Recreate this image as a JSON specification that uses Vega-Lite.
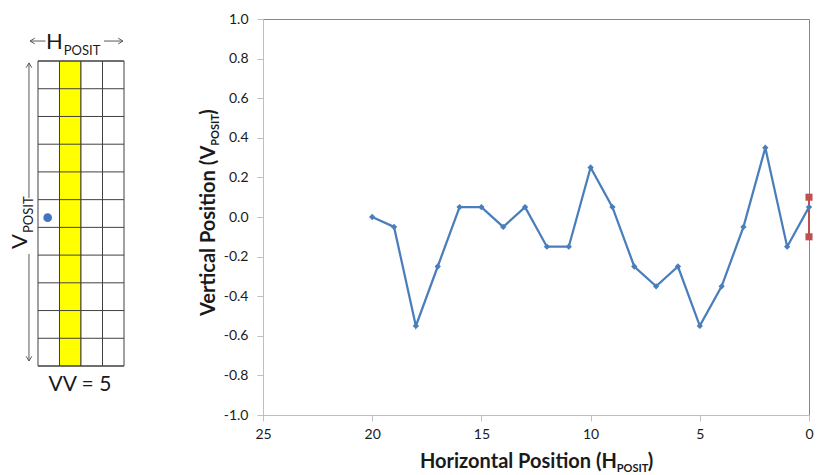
{
  "$schema": "https://vega.github.io/schema/vega-lite/v6.json",
  "background": "white",
  "padding": {"left": 0, "top": 11, "right": 0, "bottom": 0},
  "autosize": {"type": "pad"},
  "bounds": "flush",
  "spacing": 113,
  "config": {
    "font": "Lato",
    "axis": {"labelFont": "Lato", "titleFont": "Lato", "labelOverlap": false, "labelFontSize": 14, "labelColor": "#1a1a1a", "tickColor": "#BFBFBF", "domainColor": "#BFBFBF", "tickSize": 6, "grid": false, "labelFlush": false},
    "axisX": {"labelPadding": 6},
    "axisY": {"labelPadding": 9},
    "text": {"font": "Lato"}
  },
  "datasets": {
    "series": [
      {"h": 20, "v": 0.0},
      {"h": 19, "v": -0.05},
      {"h": 18, "v": -0.55},
      {"h": 17, "v": -0.25},
      {"h": 16, "v": 0.05},
      {"h": 15, "v": 0.05},
      {"h": 14, "v": -0.05},
      {"h": 13, "v": 0.05},
      {"h": 12, "v": -0.15},
      {"h": 11, "v": -0.15},
      {"h": 10, "v": 0.25},
      {"h": 9, "v": 0.05},
      {"h": 8, "v": -0.25},
      {"h": 7, "v": -0.35},
      {"h": 6, "v": -0.25},
      {"h": 5, "v": -0.55},
      {"h": 4, "v": -0.35},
      {"h": 3, "v": -0.05},
      {"h": 2, "v": 0.35},
      {"h": 1, "v": -0.15},
      {"h": 0, "v": 0.05}
    ],
    "errorbar": [{"h": 0, "lo": -0.1, "hi": 0.1}],
    "columns": [
      {"start": 0, "end": 1, "cell": "plain"},
      {"start": 1, "end": 2, "cell": "highlight"},
      {"start": 2, "end": 3, "cell": "plain"},
      {"start": 3, "end": 4, "cell": "plain"}
    ],
    "rows": [
      {"row": 0}, {"row": 1}, {"row": 2}, {"row": 3}, {"row": 4}, {"row": 5},
      {"row": 6}, {"row": 7}, {"row": 8}, {"row": 9}, {"row": 10}, {"row": 11}
    ],
    "marker": [{"col": 0.45, "row": 5.35}]
  },
  "hconcat": [
    {
      "width": 150,
      "height": 396,
      "view": {"stroke": null},
      "layer": [
        {
          "data": {"name": "columns"},
          "mark": {"type": "rect", "stroke": "#404040", "strokeWidth": 1},
          "encoding": {
            "x": {"field": "start", "type": "quantitative", "scale": {"domain": [-1.767, 5.209], "nice": false, "zero": false}, "axis": null},
            "x2": {"field": "end"},
            "y": {"datum": 0, "type": "quantitative", "scale": {"domain": [-1.767, 12.515], "nice": false, "zero": false}, "axis": null},
            "y2": {"datum": 11},
            "fill": {"field": "cell", "type": "nominal", "scale": {"domain": ["plain", "highlight"], "range": ["#FFFFFF", "#FFFF00"]}, "legend": null}
          }
        },
        {
          "data": {"name": "rows"},
          "mark": {"type": "rule", "color": "#404040", "strokeWidth": 1},
          "encoding": {
            "y": {"field": "row", "type": "quantitative", "axis": null},
            "x": {"datum": 0, "axis": null},
            "x2": {"datum": 4}
          }
        },
        {
          "data": {"name": "marker"},
          "mark": {"type": "point", "shape": "circle", "filled": true, "size": 75, "color": "#4472C4", "opacity": 1},
          "encoding": {
            "x": {"field": "col", "type": "quantitative", "axis": null},
            "y": {"field": "row", "type": "quantitative", "axis": null}
          }
        },
        {
          "data": {"values": [{}]},
          "mark": {"type": "rule", "color": "#595959", "strokeWidth": 1},
          "encoding": {"x": {"datum": -0.37, "axis": null}, "x2": {"datum": 0.35}, "y": {"datum": 11.72, "axis": null}}
        },
        {
          "data": {"values": [{}]},
          "mark": {"type": "rule", "color": "#595959", "strokeWidth": 1},
          "encoding": {"x": {"datum": 3.07, "axis": null}, "x2": {"datum": 3.95}, "y": {"datum": 11.72, "axis": null}}
        },
        {
          "data": {"values": [{}]},
          "mark": {"type": "rule", "color": "#595959", "strokeWidth": 1},
          "encoding": {"x": {"datum": -0.42, "axis": null}, "y": {"datum": 10.93, "axis": null}, "y2": {"datum": 6.06}}
        },
        {
          "data": {"values": [{}]},
          "mark": {"type": "rule", "color": "#595959", "strokeWidth": 1},
          "encoding": {"x": {"datum": -0.42, "axis": null}, "y": {"datum": 4.04, "axis": null}, "y2": {"datum": 0.18}}
        },
        {
          "data": {"values": [{}]},
          "mark": {"type": "point", "shape": "M1,-0.6L0,0L1,0.6", "filled": false, "size": 90, "color": "#595959", "strokeWidth": 1, "opacity": 1},
          "encoding": {"x": {"datum": -0.37, "axis": null}, "y": {"datum": 11.72, "axis": null}}
        },
        {
          "data": {"values": [{}]},
          "mark": {"type": "point", "shape": "M-1,-0.6L0,0L-1,0.6", "filled": false, "size": 90, "color": "#595959", "strokeWidth": 1, "opacity": 1},
          "encoding": {"x": {"datum": 3.95, "axis": null}, "y": {"datum": 11.72, "axis": null}}
        },
        {
          "data": {"values": [{}]},
          "mark": {"type": "point", "shape": "M-0.6,1L0,0L0.6,1", "filled": false, "size": 90, "color": "#595959", "strokeWidth": 1, "opacity": 1},
          "encoding": {"x": {"datum": -0.42, "axis": null}, "y": {"datum": 10.93, "axis": null}}
        },
        {
          "data": {"values": [{}]},
          "mark": {"type": "point", "shape": "M-0.6,-1L0,0L0.6,-1", "filled": false, "size": 90, "color": "#595959", "strokeWidth": 1, "opacity": 1},
          "encoding": {"x": {"datum": -0.42, "axis": null}, "y": {"datum": 0.18, "axis": null}}
        },
        {
          "data": {"values": [{}]},
          "mark": {"type": "text", "text": "H", "align": "right", "baseline": "alphabetic", "fontSize": 22, "color": "#1a1a1a"},
          "encoding": {"x": {"datum": 1.15, "axis": null}, "y": {"datum": 11.43, "axis": null}}
        },
        {
          "data": {"values": [{}]},
          "mark": {"type": "text", "text": "POSIT", "align": "left", "baseline": "alphabetic", "fontSize": 13, "dx": 1, "dy": 6, "color": "#1a1a1a"},
          "encoding": {"x": {"datum": 1.15, "axis": null}, "y": {"datum": 11.43, "axis": null}}
        },
        {
          "data": {"values": [{}]},
          "mark": {"type": "text", "text": "V", "align": "right", "baseline": "alphabetic", "angle": 270, "fontSize": 22, "color": "#1a1a1a"},
          "encoding": {"x": {"datum": -0.51, "axis": null}, "y": {"datum": 4.76, "axis": null}}
        },
        {
          "data": {"values": [{}]},
          "mark": {"type": "text", "text": "POSIT", "align": "left", "baseline": "alphabetic", "angle": 270, "fontSize": 13, "dx": 1, "dy": 6, "color": "#1a1a1a"},
          "encoding": {"x": {"datum": -0.51, "axis": null}, "y": {"datum": 4.76, "axis": null}}
        },
        {
          "data": {"values": [{}]},
          "mark": {"type": "text", "text": "VV = 5", "align": "center", "baseline": "alphabetic", "fontSize": 21, "color": "#1a1a1a"},
          "encoding": {"x": {"datum": 1.95, "axis": null}, "y": {"datum": -0.9, "axis": null}}
        }
      ]
    },
    {
      "width": 546,
      "height": 396,
      "view": {"stroke": "#868686"},
      "layer": [
        {
          "data": {"name": "errorbar"},
          "mark": {"type": "rule", "color": "#C0504D", "strokeWidth": 2},
          "encoding": {
            "x": {"field": "h", "type": "quantitative", "scale": {"domain": [0, 25], "reverse": true, "nice": false, "zero": false},
              "axis": {"values": [0, 5, 10, 15, 20, 25], "title": null}},
            "y": {"field": "lo", "type": "quantitative", "scale": {"domain": [-1, 1], "nice": false, "zero": false},
              "axis": {"values": [-1, -0.8, -0.6, -0.4, -0.2, 0, 0.2, 0.4, 0.6, 0.8, 1], "format": ".1f", "labelExpr": "replace(datum.label, '\u2212', '-')", "title": null}},
            "y2": {"field": "hi"}
          }
        },
        {
          "data": {"name": "errorbar"},
          "mark": {"type": "point", "shape": "square", "filled": true, "size": 50, "color": "#C0504D", "opacity": 1},
          "encoding": {
            "x": {"field": "h", "type": "quantitative", "axis": {"values": [0, 5, 10, 15, 20, 25], "title": null}},
            "y": {"field": "lo", "type": "quantitative", "axis": {"values": [-1, -0.8, -0.6, -0.4, -0.2, 0, 0.2, 0.4, 0.6, 0.8, 1], "format": ".1f", "labelExpr": "replace(datum.label, '\u2212', '-')", "title": null}}
          }
        },
        {
          "data": {"name": "errorbar"},
          "mark": {"type": "point", "shape": "square", "filled": true, "size": 50, "color": "#C0504D", "opacity": 1},
          "encoding": {
            "x": {"field": "h", "type": "quantitative", "axis": {"values": [0, 5, 10, 15, 20, 25], "title": null}},
            "y": {"field": "hi", "type": "quantitative", "axis": {"values": [-1, -0.8, -0.6, -0.4, -0.2, 0, 0.2, 0.4, 0.6, 0.8, 1], "format": ".1f", "labelExpr": "replace(datum.label, '\u2212', '-')", "title": null}}
          }
        },
        {
          "data": {"name": "series"},
          "mark": {"type": "line", "color": "#4A7EBB", "strokeWidth": 2.25, "point": {"filled": true, "shape": "diamond", "size": 40, "color": "#4A7EBB", "opacity": 1}},
          "encoding": {
            "x": {"field": "h", "type": "quantitative", "axis": {"values": [0, 5, 10, 15, 20, 25], "title": null}},
            "y": {"field": "v", "type": "quantitative", "axis": {"values": [-1, -0.8, -0.6, -0.4, -0.2, 0, 0.2, 0.4, 0.6, 0.8, 1], "format": ".1f", "labelExpr": "replace(datum.label, '\u2212', '-')", "title": null}}
          }
        },
        {
          "data": {"values": [{}]},
          "mark": {"type": "text", "text": "Horizontal Position (H", "align": "right", "baseline": "alphabetic", "fontSize": 20, "fontWeight": "bold", "color": "#1a1a1a"},
          "encoding": {
            "x": {"datum": 8.8, "axis": {"values": [0, 5, 10, 15, 20, 25], "title": null}},
            "y": {"datum": -1.27, "axis": {"values": [-1, -0.8, -0.6, -0.4, -0.2, 0, 0.2, 0.4, 0.6, 0.8, 1], "format": ".1f", "labelExpr": "replace(datum.label, '\u2212', '-')", "title": null}}
          }
        },
        {
          "data": {"values": [{}]},
          "mark": {"type": "text", "text": "POSIT", "align": "left", "baseline": "alphabetic", "fontSize": 11, "fontWeight": "bold", "dy": 4, "color": "#1a1a1a"},
          "encoding": {
            "x": {"datum": 8.8, "axis": {"values": [0, 5, 10, 15, 20, 25], "title": null}},
            "y": {"datum": -1.27, "axis": {"values": [-1, -0.8, -0.6, -0.4, -0.2, 0, 0.2, 0.4, 0.6, 0.8, 1], "format": ".1f", "labelExpr": "replace(datum.label, '\u2212', '-')", "title": null}}
          }
        },
        {
          "data": {"values": [{}]},
          "mark": {"type": "text", "text": ")", "align": "left", "baseline": "alphabetic", "fontSize": 20, "fontWeight": "bold", "dx": 31, "color": "#1a1a1a"},
          "encoding": {
            "x": {"datum": 8.8, "axis": {"values": [0, 5, 10, 15, 20, 25], "title": null}},
            "y": {"datum": -1.27, "axis": {"values": [-1, -0.8, -0.6, -0.4, -0.2, 0, 0.2, 0.4, 0.6, 0.8, 1], "format": ".1f", "labelExpr": "replace(datum.label, '\u2212', '-')", "title": null}}
          }
        },
        {
          "data": {"values": [{}]},
          "mark": {"type": "text", "text": "Vertical Position (V", "align": "right", "baseline": "alphabetic", "angle": 270, "fontSize": 20, "fontWeight": "bold", "color": "#1a1a1a"},
          "encoding": {
            "x": {"datum": 27.2, "axis": {"values": [0, 5, 10, 15, 20, 25], "title": null}},
            "y": {"datum": 0.36, "axis": {"values": [-1, -0.8, -0.6, -0.4, -0.2, 0, 0.2, 0.4, 0.6, 0.8, 1], "format": ".1f", "labelExpr": "replace(datum.label, '\u2212', '-')", "title": null}}
          }
        },
        {
          "data": {"values": [{}]},
          "mark": {"type": "text", "text": "POSIT", "align": "left", "baseline": "alphabetic", "angle": 270, "fontSize": 11, "fontWeight": "bold", "dy": 4, "color": "#1a1a1a"},
          "encoding": {
            "x": {"datum": 27.2, "axis": {"values": [0, 5, 10, 15, 20, 25], "title": null}},
            "y": {"datum": 0.36, "axis": {"values": [-1, -0.8, -0.6, -0.4, -0.2, 0, 0.2, 0.4, 0.6, 0.8, 1], "format": ".1f", "labelExpr": "replace(datum.label, '\u2212', '-')", "title": null}}
          }
        },
        {
          "data": {"values": [{}]},
          "mark": {"type": "text", "text": ")", "align": "left", "baseline": "alphabetic", "angle": 270, "fontSize": 20, "fontWeight": "bold", "dx": 31, "color": "#1a1a1a"},
          "encoding": {
            "x": {"datum": 27.2, "axis": {"values": [0, 5, 10, 15, 20, 25], "title": null}},
            "y": {"datum": 0.36, "axis": {"values": [-1, -0.8, -0.6, -0.4, -0.2, 0, 0.2, 0.4, 0.6, 0.8, 1], "format": ".1f", "labelExpr": "replace(datum.label, '\u2212', '-')", "title": null}}
          }
        }
      ]
    }
  ]
}
